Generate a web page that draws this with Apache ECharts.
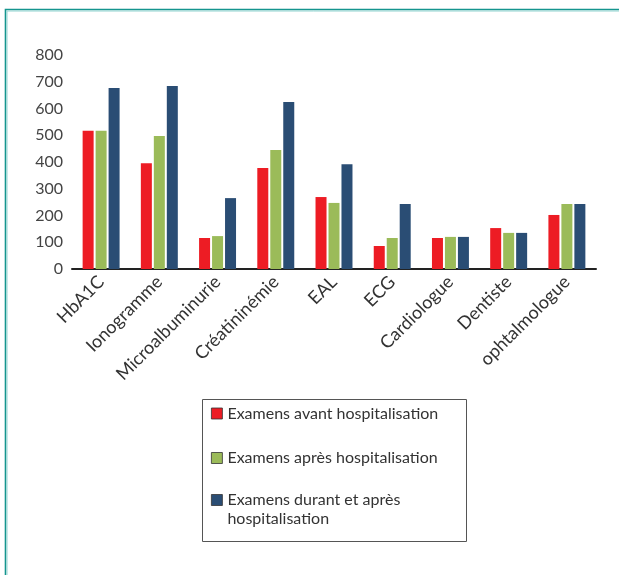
<!DOCTYPE html>
<html>
<head>
<meta charset="utf-8">
<script src="https://cdn.jsdelivr.net/npm/echarts@6/dist/echarts.min.js"></script>
<style>
  html, body { margin: 0; padding: 0; background: #fff; }
  #chart { width: 619px; height: 575px; }
</style>
</head>
<body>
<div id="chart"></div>
<script>
// Exams performed, by type and by period relative to hospitalisation
const categories = ['HbA1C', 'Ionogramme', 'Microalbuminurie', 'Créatininémie', 'EAL', 'ECG', 'Cardiologue', 'Dentiste', 'ophtalmologue'];
const seriesNames = ['Examens avant hospitalisation', 'Examens après hospitalisation', 'Examens durant et après hospitalisation'];
const avant = [517, 395, 116, 378, 269, 86, 116, 153, 202];
const apres = [517, 497, 123, 445, 247, 116, 120, 135, 243];
const durantApres = [677, 684, 265, 624, 392, 243, 120, 135, 243];
const yTicks = { min: 0, max: 800, interval: 100 };

const colors = ['#ED1C24', '#9BBB59', '#2A4D74'];
const font = 'Lato, "Open Sans", sans-serif';

const chart = echarts.init(document.getElementById('chart'), null, { renderer: 'canvas' });

const mkSeries = (name, data, color) => ({
  name, type: 'bar', data,
  barWidth: 11, barGap: '18%',
  itemStyle: { color },
  emphasis: { disabled: true }
});

const legendBase = {
  orient: 'vertical', left: 211, padding: 0,
  itemWidth: 11, itemHeight: 11, icon: 'rect',
  itemStyle: { borderColor: '#333', borderWidth: 0.8 },
  textStyle: { fontFamily: font, fontSize: 16, color: '#333', lineHeight: 19 },
  selectedMode: false
};

chart.setOption({
  animation: false,
  color: colors,
  grid: { left: 72, right: 23, top: 55, bottom: 306, containLabel: false },
  xAxis: {
    type: 'category', data: categories,
    axisLine: { lineStyle: { color: '#222', width: 2 } },
    axisTick: { show: false },
    axisLabel: { rotate: 45, margin: 10, interval: 0, fontFamily: font, fontSize: 18, color: '#333' }
  },
  yAxis: {
    type: 'value', min: yTicks.min, max: yTicks.max, interval: yTicks.interval,
    axisLine: { show: false }, axisTick: { show: false }, splitLine: { show: false },
    axisLabel: { margin: 9, fontFamily: font, fontSize: 16, color: '#444' }
  },
  legend: [
    Object.assign({}, legendBase, { top: 404, data: [seriesNames[0]] }),
    Object.assign({}, legendBase, { top: 448.5, data: [seriesNames[1]] }),
    Object.assign({}, legendBase, {
      top: 471.5,
      data: [seriesNames[2]],
      // blank leading line keeps the first text line level with the swatch
      formatter: () => '\nExamens durant et après\nhospitalisation'
    })
  ],
  graphic: [
    { type: 'polyline', silent: true, shape: { points: [[625, 9.5], [5.5, 9.5], [5.5, 580]] },
      style: { fill: null, stroke: '#15958e', lineWidth: 1.6 } },
    { type: 'polyline', silent: true, shape: { points: [[625, 11], [7, 11], [7, 580]] },
      style: { fill: null, stroke: '#92d4d0', lineWidth: 1 } },
    { type: 'rect', silent: true, shape: { x: 202.5, y: 399.5, width: 264, height: 142 },
      style: { fill: null, stroke: '#555', lineWidth: 1 } }
  ],
  series: [
    mkSeries(seriesNames[0], avant, colors[0]),
    mkSeries(seriesNames[1], apres, colors[1]),
    mkSeries(seriesNames[2], durantApres, colors[2])
  ]
});
</script>
</body>
</html>
